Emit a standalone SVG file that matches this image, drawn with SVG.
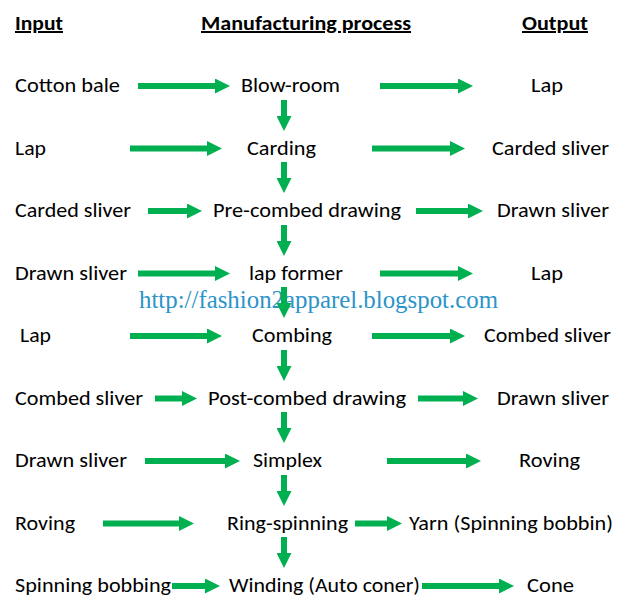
<svg xmlns="http://www.w3.org/2000/svg" width="625" height="607" viewBox="0 0 625 607">
<defs>
<style>
text{font-family:Carlito,Lato,"Open Sans",sans-serif;font-size:20px;fill:#000}
.h{font-weight:bold;text-decoration:underline}
.wm{font-family:"Liberation Serif",serif;font-size:25px;fill:#2b94c8}
.c line{stroke:#00b050;stroke-width:6;marker-end:url(#ah)}
</style>
<marker id="ah" markerUnits="userSpaceOnUse" markerWidth="15" markerHeight="15" viewBox="0 0 15 15" refX="0" refY="7.5" orient="auto">
<path d="M0,0L15,7.5L0,15z" fill="#00b050"/>
</marker>
</defs>
<rect width="625" height="607" fill="#fff"/>
<g id="watermark">
<text class="wm" x="139" y="308" textLength="359" lengthAdjust="spacingAndGlyphs">http://fashion2apparel.blogspot.com</text>
</g>
<g id="headers">
<text class="h" x="15" y="30" textLength="48" lengthAdjust="spacingAndGlyphs">Input</text>
<text class="h" x="201" y="30" textLength="210" lengthAdjust="spacingAndGlyphs">Manufacturing process</text>
<text class="h" x="522" y="30" textLength="66" lengthAdjust="spacingAndGlyphs">Output</text>
</g>
<g id="inputs">
<text x="15" y="92" textLength="105" lengthAdjust="spacingAndGlyphs">Cotton bale</text>
<text x="15" y="154.5" textLength="31" lengthAdjust="spacingAndGlyphs">Lap</text>
<text x="15" y="217" textLength="116" lengthAdjust="spacingAndGlyphs">Carded sliver</text>
<text x="15" y="279.5" textLength="112" lengthAdjust="spacingAndGlyphs">Drawn sliver</text>
<text x="20" y="342" textLength="31" lengthAdjust="spacingAndGlyphs">Lap</text>
<text x="15" y="404.5" textLength="128" lengthAdjust="spacingAndGlyphs">Combed sliver</text>
<text x="15" y="467" textLength="112" lengthAdjust="spacingAndGlyphs">Drawn sliver</text>
<text x="15" y="529.5" textLength="60" lengthAdjust="spacingAndGlyphs">Roving</text>
<text x="15" y="592" textLength="156" lengthAdjust="spacingAndGlyphs">Spinning bobbing</text>
</g>
<g id="process">
<text x="241" y="92" textLength="99" lengthAdjust="spacingAndGlyphs">Blow-room</text>
<text x="247" y="154.5" textLength="69" lengthAdjust="spacingAndGlyphs">Carding</text>
<text x="213" y="217" textLength="188" lengthAdjust="spacingAndGlyphs">Pre-combed drawing</text>
<text x="249" y="279.5" textLength="94" lengthAdjust="spacingAndGlyphs">lap former</text>
<text x="252" y="342" textLength="80" lengthAdjust="spacingAndGlyphs">Combing</text>
<text x="208" y="404.5" textLength="198" lengthAdjust="spacingAndGlyphs">Post-combed drawing</text>
<text x="253" y="467" textLength="69" lengthAdjust="spacingAndGlyphs">Simplex</text>
<text x="227" y="529.5" textLength="121" lengthAdjust="spacingAndGlyphs">Ring-spinning</text>
<text x="229" y="592" textLength="191" lengthAdjust="spacingAndGlyphs">Winding (Auto coner)</text>
</g>
<g id="outputs">
<text x="531" y="92" textLength="32" lengthAdjust="spacingAndGlyphs">Lap</text>
<text x="492" y="154.5" textLength="117" lengthAdjust="spacingAndGlyphs">Carded sliver</text>
<text x="497" y="217" textLength="112" lengthAdjust="spacingAndGlyphs">Drawn sliver</text>
<text x="531" y="279.5" textLength="32" lengthAdjust="spacingAndGlyphs">Lap</text>
<text x="484" y="342" textLength="127" lengthAdjust="spacingAndGlyphs">Combed sliver</text>
<text x="497" y="404.5" textLength="112" lengthAdjust="spacingAndGlyphs">Drawn sliver</text>
<text x="519" y="467" textLength="61" lengthAdjust="spacingAndGlyphs">Roving</text>
<text x="409" y="529.5" textLength="204" lengthAdjust="spacingAndGlyphs">Yarn (Spinning bobbin)</text>
<text x="527" y="592" textLength="47" lengthAdjust="spacingAndGlyphs">Cone</text>
</g>
<g id="connectors" class="c">
<line x1="138" y1="86" x2="215" y2="86"/>
<line x1="380" y1="86" x2="458" y2="86"/>
<line x1="130" y1="148.5" x2="207" y2="148.5"/>
<line x1="372" y1="148.5" x2="450" y2="148.5"/>
<line x1="148" y1="211" x2="187" y2="211"/>
<line x1="416" y1="211" x2="468" y2="211"/>
<line x1="138" y1="273.5" x2="215" y2="273.5"/>
<line x1="380" y1="273.5" x2="458" y2="273.5"/>
<line x1="130" y1="336" x2="207" y2="336"/>
<line x1="372" y1="336" x2="450" y2="336"/>
<line x1="155" y1="398.5" x2="182" y2="398.5"/>
<line x1="418" y1="398.5" x2="463" y2="398.5"/>
<line x1="145" y1="461" x2="225" y2="461"/>
<line x1="387" y1="461" x2="466" y2="461"/>
<line x1="103" y1="523.5" x2="179" y2="523.5"/>
<line x1="355" y1="523.5" x2="387" y2="523.5"/>
<line x1="172" y1="586" x2="205" y2="586"/>
<line x1="422" y1="586" x2="499" y2="586"/>
<line x1="284" y1="100" x2="284" y2="116"/>
<line x1="284" y1="162" x2="284" y2="178"/>
<line x1="284" y1="225" x2="284" y2="241"/>
<line x1="284" y1="287" x2="284" y2="303"/>
<line x1="284" y1="350" x2="284" y2="366"/>
<line x1="284" y1="412" x2="284" y2="428"/>
<line x1="284" y1="475" x2="284" y2="491"/>
<line x1="284" y1="537" x2="284" y2="553"/>
</g>
</svg>
